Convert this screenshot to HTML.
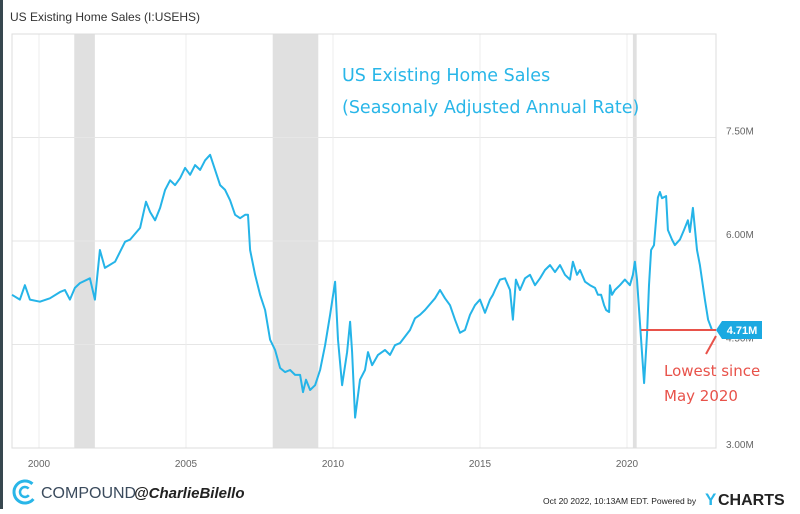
<!DOCTYPE html>
<html><head><meta charset="utf-8">
<style>
body{margin:0;background:#fff;width:800px;height:509px;overflow:hidden;font-family:"Liberation Sans",sans-serif;}
</style></head>
<body>
<svg id="chart" width="800" height="509" viewBox="0 0 800 509" xmlns="http://www.w3.org/2000/svg">
<rect x="0" y="0" width="3" height="509" fill="#37474f"/>
<text x="10" y="21" font-size="12" fill="#333">US Existing Home Sales (I:USEHS)</text>
<g id="rec"></g>
<g id="grid"></g>
<rect x="12" y="34" width="704" height="414" fill="none" stroke="#ddd"/>
<g id="yt"></g>
<g id="xt"></g>
<path id="line" fill="none" stroke="#25b4e8" stroke-width="2" stroke-linejoin="round"/>
<text x="342" y="81" font-size="17.5" fill="#29b6e8" font-family="'DejaVu Sans',sans-serif">US Existing Home Sales</text>
<text x="342" y="113" font-size="17.5" fill="#29b6e8" font-family="'DejaVu Sans',sans-serif">(Seasonaly Adjusted Annual Rate)</text>
<line id="redline" x1="641" x2="716" stroke="#e8524a" stroke-width="2"/>
<line x1="716" y1="336" x2="706" y2="354" stroke="#e8524a" stroke-width="2"/>
<g id="lastlbl"></g>
<text x="664" y="376" font-size="15" fill="#e8524a" font-family="'DejaVu Sans',sans-serif">Lowest since</text>
<text x="664" y="401" font-size="15" fill="#e8524a" font-family="'DejaVu Sans',sans-serif">May 2020</text>
<g>
<circle cx="25" cy="492" r="11" fill="none" stroke="#29b6e8" stroke-width="3" stroke-dasharray="52 18" transform="rotate(40 25 492)"/>
<circle cx="25" cy="492" r="5" fill="none" stroke="#29b6e8" stroke-width="2.5" stroke-dasharray="24 8" transform="rotate(40 25 492)"/>
</g>
<text x="41" y="498" font-size="16" fill="#3a4a5c">COMPOUND</text>
<text x="134" y="498" font-size="15" fill="#222" font-weight="bold" font-style="italic">@CharlieBilello</text>
<text x="543" y="504" font-size="8.5" fill="#222">Oct 20 2022, 10:13AM EDT.  Powered by</text>
<text x="705" y="505" font-size="17" fill="#29b6e8" font-weight="bold">Y</text>
<text x="718" y="505" font-size="16" fill="#222" font-weight="bold">CHARTS</text>
</svg>
<script>
const years=[1999.08,1999.35,1999.52,1999.69,2000.03,2000.37,2000.71,2000.88,2001.05,2001.22,2001.39,2001.73,2001.90,2002.07,2002.24,2002.59,2002.93,2003.10,2003.44,2003.64,2003.78,2003.95,2004.12,2004.29,2004.46,2004.63,2004.80,2004.97,2005.14,2005.31,2005.48,2005.65,2005.82,2005.99,2006.16,2006.33,2006.50,2006.67,2006.84,2007.01,2007.11,2007.18,2007.35,2007.52,2007.69,2007.86,2008.03,2008.20,2008.37,2008.54,2008.71,2008.88,2008.98,2009.08,2009.22,2009.39,2009.56,2009.73,2009.90,2010.07,2010.17,2010.31,2010.48,2010.58,2010.65,2010.75,2010.92,2011.09,2011.19,2011.33,2011.53,2011.77,2011.94,2012.11,2012.28,2012.62,2012.79,2012.96,2013.13,2013.47,2013.64,2013.81,2013.98,2014.15,2014.32,2014.49,2014.66,2014.83,2015.00,2015.17,2015.34,2015.44,2015.51,2015.68,2015.85,2016.02,2016.12,2016.22,2016.36,2016.53,2016.70,2016.87,2017.04,2017.21,2017.38,2017.55,2017.72,2017.89,2018.06,2018.16,2018.30,2018.40,2018.57,2018.74,2018.91,2019.01,2019.12,2019.22,2019.29,2019.39,2019.42,2019.49,2019.59,2019.76,2019.93,2020.10,2020.20,2020.27,2020.34,2020.48,2020.58,2020.68,2020.75,2020.82,2020.92,2021.05,2021.12,2021.19,2021.33,2021.39,2021.53,2021.63,2021.80,2021.94,2022.07,2022.14,2022.24,2022.38,2022.48,2022.65,2022.76,2022.89];
const sales=[5.22,5.15,5.36,5.15,5.12,5.17,5.26,5.29,5.15,5.32,5.39,5.46,5.15,5.87,5.61,5.70,5.99,6.02,6.19,6.57,6.42,6.30,6.48,6.74,6.88,6.81,6.91,7.06,6.96,7.10,7.03,7.17,7.25,7.03,6.81,6.74,6.59,6.38,6.33,6.38,6.38,5.87,5.51,5.22,5.00,4.57,4.42,4.16,4.10,4.13,4.06,4.06,3.81,3.99,3.84,3.91,4.13,4.49,4.93,5.41,4.57,3.91,4.39,4.83,4.39,3.44,3.99,4.13,4.39,4.20,4.35,4.42,4.35,4.49,4.52,4.71,4.88,4.93,5.00,5.17,5.29,5.17,5.07,4.86,4.67,4.71,4.93,5.07,5.15,4.96,5.15,5.22,5.29,5.44,5.46,5.29,4.86,5.44,5.29,5.46,5.51,5.36,5.46,5.58,5.65,5.55,5.65,5.51,5.44,5.70,5.51,5.58,5.41,5.36,5.32,5.22,5.22,5.07,5.00,4.97,5.36,5.22,5.29,5.36,5.44,5.36,5.51,5.70,5.44,4.57,3.94,4.64,5.36,5.87,5.94,6.63,6.71,6.62,6.65,6.16,6.02,5.94,6.02,6.16,6.30,6.13,6.48,5.87,5.65,5.15,4.86,4.71];
const yTicks=[3.0,4.5,6.0,7.5];
const yTickLabels=["3.00M","4.50M","6.00M","7.50M"];
const xTicks=[2000,2005,2010,2015,2020];
const recessions=[[2001.2,2001.9],[2007.95,2009.5],[2020.2,2020.33]];
const lastLabel="4.71M";
const X0=12,X1=716,Y0=34,Y1=448;
const xs=y=>39+(y-2000)*29.4;
const ys=v=>448-(v-3.0)*(414/6.0);
const NS="http://www.w3.org/2000/svg";
function mk(t,a){const e=document.createElementNS(NS,t);for(const k in a)e.setAttribute(k,a[k]);return e;}
const rec=document.getElementById('rec');
recessions.forEach(r=>{const e=mk('rect',{x:xs(r[0]),y:Y0,width:xs(r[1])-xs(r[0]),height:Y1-Y0,fill:'#e0e0e0'});


rec.appendChild(e);});
const grid=document.getElementById('grid'),yt=document.getElementById('yt'),xt=document.getElementById('xt');
yTicks.forEach((v,i)=>{const g=mk('line',{x1:X0,x2:X1,y1:ys(v),y2:ys(v),stroke:'#e6e6e6'});


grid.appendChild(g);
const t=mk('text',{x:726,y:ys(v)+(i==0?0:-3),'font-size':10,fill:'#666'});t.textContent=yTickLabels[i];


yt.appendChild(t);});
xTicks.forEach(v=>{const g=mk('line',{x1:xs(v),x2:xs(v),y1:Y0,y2:Y1,stroke:'#ececec'});


grid.appendChild(g);
const t=mk('text',{x:xs(v),y:467,'font-size':10,fill:'#666','text-anchor':'middle'});t.textContent=v;


xt.appendChild(t);});
document.getElementById('line').setAttribute('d',years.map((y,i)=>(i?'L':'M')+xs(y).toFixed(1)+' '+ys(sales[i]).toFixed(1)).join(''));
const lv=sales[sales.length-1],ly=ys(lv);
const rl=document.getElementById('redline');rl.setAttribute('y1',ly);rl.setAttribute('y2',ly);
const ll=document.getElementById('lastlbl');
const p=mk('path',{d:`M716 ${ly} L722 ${ly-9} H762 V${ly+9} H722 Z`,fill:'#1ba9e1'});


ll.appendChild(p);
const lt=mk('text',{x:742,y:ly+4,'font-size':11,'font-weight':'bold',fill:'#fff','text-anchor':'middle'});lt.textContent=lastLabel;


ll.appendChild(lt);
</script>
</body></html>
